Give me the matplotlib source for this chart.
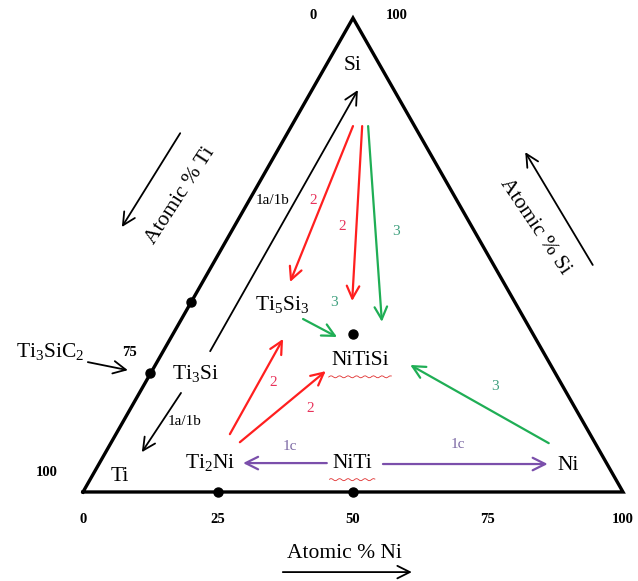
"""Ti–Ni–Si ternary: reaction paths between phases (arrows in composition space)."""
import numpy as np
import matplotlib
matplotlib.use("Agg")
import matplotlib.pyplot as plt

plt.rcParams["font.family"] = ["Liberation Serif", "DejaVu Serif"]
plt.rcParams["mathtext.fontset"] = "custom"
plt.rcParams["mathtext.rm"] = "Liberation Serif"

# ── data: compositions in atomic % (Ni, Si); Ti is the balance ──────────────
phase_dots = [(0, 25), (0, 40), (25, 0), (50, 0), (33.3, 33.3)]   # Ti3Si, Ti5Si3, Ti2Ni, NiTi, NiTiSi

# reaction arrows: (start Ni, start Si) -> (end Ni, end Si)
black_paths = [((8.7, 29.7), (8.5, 84.8)), ((7.7, 20.9), (6.7, 8.4))]
red_paths = [((11.4, 77.2), (16.2, 44.3)), ((13.1, 77.2), (29.7, 40.3)),
             ((21.1, 12.2), (20.9, 32.3)), ((23.8, 10.5), (32.2, 25.5))]
green_paths = [((14.2, 77.2), (37.4, 35.9)), ((22.5, 36.5), (30.7, 32.7)),
               ((81.1, 10.3), (47.2, 26.8))]
purple_paths = [((42.1, 6.1), (26.6, 6.1)), ((52.6, 5.9), (83.1, 5.9))]

ni_ticks = [0, 25, 50, 75, 100]

C_RED, C_RED_TXT = "#ff1f1f", "#e8325a"
C_GRN, C_GRN_TXT = "#1fae55", "#3fa07e"
C_PUR, C_PUR_TXT = "#7b4fab", "#7d6aa5"


def tern(ni, si):
    """composition (%) -> plot coords: x along Ti-Ni base, y = Si fraction"""
    return ni / 100 + si / 200, si / 100


fig = plt.figure(figsize=(6.38, 5.81), dpi=100)
ax = fig.add_axes([0, 0, 1, 1])
ax.set_xlim(-0.1537, 1.0278)
ax.set_ylim(-0.1878, 1.038)
ax.axis("off")

# triangle frame
corners = [tern(0, 0), tern(100, 0), tern(0, 100), tern(0, 0)]
ax.plot(*zip(*corners), color="black", lw=2.4, solid_joinstyle="miter")

# phase dots
for ni, si in phase_dots:
    ax.plot(*tern(ni, si), "o", color="black", ms=6.5)

HEAD = "->,head_length=0.9,head_width=0.45"


def arrow(p0, p1, color, lw=1.3):
    ax.annotate("", xy=tern(*p1), xytext=tern(*p0),
                arrowprops=dict(arrowstyle=HEAD, color=color, lw=lw, shrinkA=0, shrinkB=0))


for p0, p1 in black_paths:
    arrow(p0, p1, "black")
for p0, p1 in red_paths:
    arrow(p0, p1, C_RED, 1.6)
for p0, p1 in green_paths:
    arrow(p0, p1, C_GRN, 1.6)
for p0, p1 in purple_paths:
    arrow(p0, p1, C_PUR, 1.6)

# phase names
FS = 15.5
names = [("Si", 5, 90), ("Ti", 5.3, 3.2), ("Ti$_2$Ni", 20.5, 6.1), ("NiTi", 46.8, 6.1),
         ("Ni", 87.1, 5.5), ("NiTiSi", 37.4, 27.8), ("Ti$_5$Si$_3$", 17.1, 39.5),
         ("Ti$_3$Si", 8.3, 24.9)]
for txt, ni, si in names:
    ax.text(*tern(ni, si), txt, fontsize=FS, ha="center", va="center")

# red squiggle under NiTiSi / NiTi (as in the source)
for ni, si, w in [(37.4, 27.8, 0.058), (46.8, 6.1, 0.042)]:
    x0, y0 = tern(ni, si)
    xs = np.linspace(x0 - w, x0 + w, 40)
    ax.plot(xs, y0 - 0.035 + 0.0022 * np.sin(xs * 400), color="#e03030", lw=0.6)

# path labels
path_labels = [("1a/1b", 4.4, 61.6, "black"), ("1a/1b", 11.5, 14.8, "black"),
               ("2", 11.8, 61.6, C_RED_TXT), ("2", 19.9, 56.1, C_RED_TXT),
               ("2", 23.7, 23.0, C_RED_TXT), ("2", 33.2, 17.7, C_RED_TXT),
               ("3", 30.5, 54.9, C_GRN_TXT), ("3", 26.5, 39.9, C_GRN_TXT),
               ("3", 65.2, 22.2, C_GRN_TXT),
               ("1c", 33.6, 9.5, C_PUR_TXT), ("1c", 64.4, 10.1, C_PUR_TXT)]
for txt, ni, si, c in path_labels:
    ax.text(*tern(ni, si), txt, fontsize=11, color=c, ha="center", va="center")

# axis tick numbers
TFS = 10.5
for t in ni_ticks:
    ax.text(t / 100, -0.058, str(t), fontsize=TFS, fontweight="bold", ha="center", va="center")
ax.text(0.087, 0.295, "75", fontsize=TFS, fontweight="bold", ha="center", va="center")
ax.text(-0.067, 0.042, "100", fontsize=TFS, fontweight="bold", ha="center", va="center")
ax.text(0.426, 1.006, "0", fontsize=TFS, fontweight="bold", ha="center", va="center")
ax.text(0.581, 1.006, "100", fontsize=TFS, fontweight="bold", ha="center", va="center")

# Ti3SiC2 pointer
ax.text(-0.061, 0.295, "Ti$_3$SiC$_2$", fontsize=FS, ha="center", va="center")
ax.annotate("", xy=(0.083, 0.257), xytext=(0.009, 0.274),
            arrowprops=dict(arrowstyle=HEAD, color="black", lw=1.3, shrinkA=0, shrinkB=0))

# axis titles with direction arrows
ax.text(0.485, -0.129, "Atomic % Ni", fontsize=FS, ha="center", va="center")
ax.text(0.180, 0.624, "Atomic % Ti", fontsize=FS, ha="center", va="center", rotation=57)
ax.text(0.837, 0.559, "Atomic % Si", fontsize=FS, ha="center", va="center", rotation=-56)
for (x0, y0), (x1, y1) in [((0.370, -0.169), (0.609, -0.169)),
                           ((0.180, 0.757), (0.072, 0.559)),
                           ((0.944, 0.479), (0.819, 0.717))]:
    ax.annotate("", xy=(x1, y1), xytext=(x0, y0),
                arrowprops=dict(arrowstyle=HEAD, color="black", lw=1.3, shrinkA=0, shrinkB=0))

fig.savefig("out.png", dpi=100)
